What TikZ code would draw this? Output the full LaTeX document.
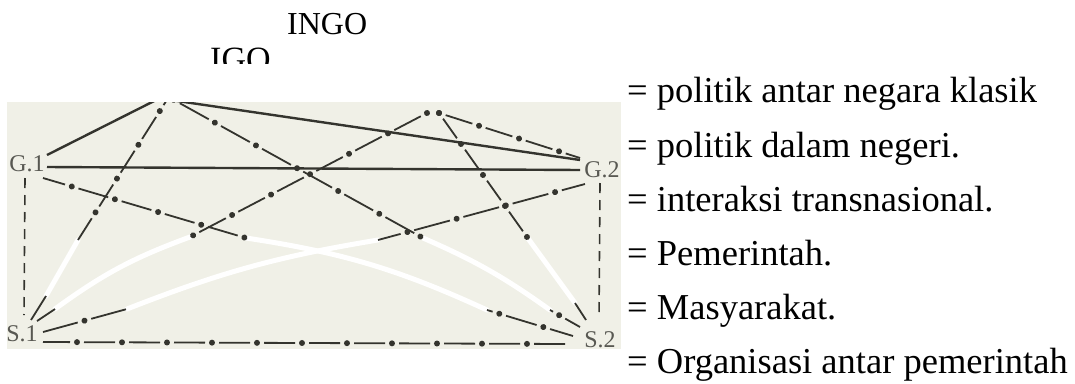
\documentclass[tikz,border=0pt]{standalone}
\usepackage{fontspec}
\setmainfont{Liberation Serif}
\usetikzlibrary{decorations.markings}
\definecolor{paper}{RGB}{240,240,231}
\definecolor{ink}{RGB}{52,52,46}
\definecolor{labgray}{RGB}{88,88,82}
\tikzset{
  solidln/.style={draw=ink, line width=2.4pt},
  segln/.style={draw=ink, line width=1.8pt},
  dashln/.style={draw=ink, line width=1.6pt, dash pattern=on 10pt off 7pt},
  erased/.style={draw=white, line width=5pt, line cap=round},
  dotline/.code 2 args={%
    \pgfmathsetmacro\ddph{mod(#2-7-#1+10*#2,#2)}%
    \pgfmathsetmacro\ddon{#2-14}%
    \edef\ddtmp{\noexpand\tikzset{dash pattern=on \ddon pt off 14pt, dash phase=\ddph pt}}\ddtmp
    \tikzset{draw=ink, line width=1.8pt, postaction={decorate},
      decoration={markings, mark=between positions #1pt and 1 step #2pt with {\fill[ink] (0,0) circle (3pt);}}}},
  lab/.style={text=labgray, font=\fontsize{24}{28}\selectfont, inner sep=0pt},
  legendtxt/.style={anchor=base west, inner sep=0pt, font=\fontsize{36.5}{40}\selectfont},
  toptxt/.style={anchor=base west, inner sep=0pt},
}
\begin{document}
\begin{tikzpicture}[x=1pt,y=-1pt]
\useasboundingbox (0,0) rectangle (1075,383);
\fill[white] (0,0) rectangle (1075,383);
\fill[paper] (7,102) rectangle (621,349);

% top texts
\node[toptxt, font=\fontsize{32}{36}\selectfont] (ingotxt) at (287,34) {INGO};
\begin{scope}
  \clip (0,0) rectangle (1075,63.5);
  \node[toptxt, font=\fontsize{34}{38}\selectfont] (igotxt) at (210,70) {IGO};
\end{scope}

% legend
\node[legendtxt] (l1) at (627,102) {= politik antar negara klasik};
\node[legendtxt] (l2) at (627,157) {= politik dalam negeri.};
\node[legendtxt] (l3) at (627,211) {= interaksi transnasional.};
\node[legendtxt] (l4) at (627,265) {= Pemerintah.};
\node[legendtxt] (l5) at (627,319) {= Masyarakat.};
\node[legendtxt] (l6) at (627,373) {= Organisasi antar pemerintah};

% labels
\node[lab] (G1) at (27,164) {G.1};
\node[lab] (G2) at (602,170) {G.2};
\node[lab] (S1) at (22,334) {S.1};
\node[lab] (S2) at (600,340) {S.2};

% apex and end coordinates
\coordinate (igoA) at (166,95);
\coordinate (igoB) at (170,95);
\coordinate (igoC) at (165,95);
\coordinate (igoD) at (150,97);
\coordinate (ingoL) at (427,113);
\coordinate (ingoR) at (439,113);
\coordinate (g1up) at (47,155);
\coordinate (g1r) at (47,167);
\coordinate (g1dn) at (43,178);
\coordinate (g1v) at (25,178);
\coordinate (g2l) at (580,170);
\coordinate (g2up) at (580,160);
\coordinate (g2in) at (580,158);
\coordinate (g2dn) at (585,184);
\coordinate (g2v) at (600,183);
\coordinate (s1v) at (24,315);
\coordinate (s1a) at (31,320);
\coordinate (s1b) at (37,321);
\coordinate (s1c) at (43,332);
\coordinate (s1r) at (43,342);
\coordinate (s2v) at (599,318);
\coordinate (s2a) at (586,320);
\coordinate (s2b) at (580,327);
\coordinate (s2c) at (573,336);
\coordinate (s2l) at (568,344);
% break points (dark -> erased -> dark)
\coordinate (p1) at (78,240);  \coordinate (q1) at (46,296);
\coordinate (p2) at (423,238); \coordinate (q2) at (550,310);
\coordinate (p3) at (246,238); \coordinate (q3) at (487,310);
\coordinate (p4) at (190,237); \coordinate (q4) at (55,309);
\coordinate (p5) at (527,237); \coordinate (q5) at (575,303);
\coordinate (p6) at (378,240); \coordinate (q6) at (127,309);

\begin{scope}
  \clip (7,102) rectangle (621,349);
  % erased (white) parts
  \draw[erased] (p1) -- (q1);
  \draw[erased] (p2) to[bend left=6] (q2);
  \draw[erased] (p3) to[bend left=8] (q3);
  \draw[erased] (p4) to[bend right=8] (q4);
  \draw[erased] (p5) -- (q5);
  \draw[erased] (p6) to[bend right=6] (q6);

  % politik antar negara (solid)
  \draw[solidln] (g1up) -- (igoA);
  \draw[solidln] (g1r) -- (g2l);
  \draw[solidln] (igoD) -- (g2up);

  % politik dalam negeri (dashed)
  \draw[dashln] (g1v) -- (s1v);
  \draw[dashln] (g2v) -- (s2v);

  % transnational (dash-dot)
  \draw[dotline={19}{40}] (igoB) -- (p1);
  \draw[dotline={10}{47}] (igoC) -- (p2);
  \draw[dotline={30}{45}] (g1dn) -- (p3);
  \draw[dotline={0}{44}] (ingoL) -- (p4);
  \draw[dotline={0}{38}] (ingoR) -- (p5);
  \draw[dotline={0}{42}] (ingoR) -- (g2in);
  \draw[dotline={31}{51}] (g2dn) -- (p6);
  \draw[dotline={34}{45}] (s1r) -- (s2l);

  % short pieces near S
  \draw[segln] (s1a) -- (q1);
  \draw[segln] (s1b) -- (q4);
  \draw[dotline={43}{50}] (s1c) -- (q6);
  \draw[segln] (s2a) -- (q5);
  \draw[dotline={24}{44}] (s2b) -- (q2);
  \draw[dotline={31}{46}] (s2c) -- (q3);
\end{scope}
\end{tikzpicture}
\end{document}
